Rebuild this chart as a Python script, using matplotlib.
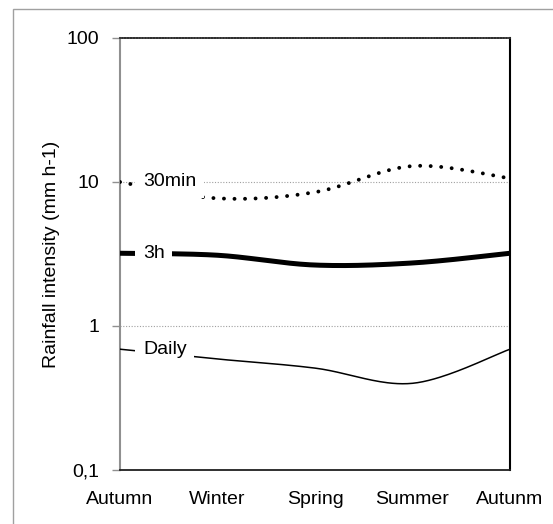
import numpy as np
import matplotlib
matplotlib.use('Agg')
import matplotlib.pyplot as plt
from matplotlib.patches import Rectangle

plt.rcParams['font.family'] = ['Liberation Sans', 'DejaVu Sans']

# seasons along the x axis
seasons = ['Autumn', 'Winter', 'Spring', 'Summer', 'Autunm']

# rainfall intensity (mm h-1) per season
min30 = [10.0, 7.7, 8.5, 12.9, 10.6]
h3 = [3.2, 3.1, 2.65, 2.74, 3.2]
daily = [0.69, 0.59, 0.51, 0.40, 0.69]

ytick_vals = [0.1, 1, 10, 100]
ytick_labels = ['0,1', '1', '10', '100']


def smooth(y, n=40):
    # Excel-style smoothed line (Catmull-Rom) drawn in log space
    ly = np.log10(y)
    x = np.arange(len(y), dtype=float)
    p = np.concatenate([[ly[0]], ly, [ly[-1]]])
    px = np.concatenate([[x[0]], x, [x[-1]]])
    xs, ys = [], []
    t = np.linspace(0, 1, n)
    for i in range(1, len(p) - 2):
        b0 = np.array([px[i], p[i]])
        b3 = np.array([px[i + 1], p[i + 1]])
        b1 = b0 + (np.array([px[i + 1], p[i + 1]]) - np.array([px[i - 1], p[i - 1]])) / 6
        b2 = b3 - (np.array([px[i + 2], p[i + 2]]) - np.array([px[i], p[i]])) / 6
        pts = ((1 - t) ** 3)[:, None] * b0 + (3 * (1 - t) ** 2 * t)[:, None] * b1 \
            + (3 * (1 - t) * t ** 2)[:, None] * b2 + (t ** 3)[:, None] * b3
        xs.extend(pts[:, 0])
        ys.extend(pts[:, 1])
    return np.array(xs), 10 ** np.array(ys)


fig = plt.figure(figsize=(5.53, 5.24), dpi=100)
ax = fig.add_axes([120 / 553, 54 / 524, 390 / 553, 432 / 524])

# outer chart frame
fig.add_artist(Rectangle((13 / 553, -0.5), 2, 1.5 - 9 / 524, transform=fig.transFigure,
                         fill=False, edgecolor='#a0a0a0', lw=1.0))

ax.set_yscale('log')
ax.set_ylim(0.1, 100)
ax.set_xlim(0, 4)

for v in [1, 10]:
    ax.axhline(v, color='#a0a0a0', lw=0.8, ls=(0, (1, 1.5)), zorder=1)

xs, ys = smooth(min30)
ax.plot(xs, ys, color='black', lw=2.8, ls=(0, (0.01, 2.7)), dash_capstyle='round', zorder=3)
xs, ys = smooth(h3)
ax.plot(xs, ys, color='black', lw=3.6, solid_capstyle='butt', zorder=3)
xs, ys = smooth(daily)
ax.plot(xs, ys, color='black', lw=1.1, zorder=3)

for name, series in [('30min', min30), ('3h', h3), ('Daily', daily)]:
    ax.text(0.235, series[0], name, ha='left', va='center', fontsize=14, zorder=4,
            bbox=dict(boxstyle='square,pad=0.4', fc='white', ec='none'))

ax.set_yticks(ytick_vals)
ax.set_yticklabels(ytick_labels, fontsize=14)
ax.yaxis.set_minor_locator(matplotlib.ticker.NullLocator())
ax.tick_params(axis='y', length=6, width=1, color='#909090', pad=9)
ax.set_xticks(range(len(seasons)))
ax.set_xticklabels(seasons, fontsize=14)
ax.tick_params(axis='x', length=0, pad=15)

ax.set_ylabel('Rainfall intensity (mm h-1)', fontsize=14, labelpad=5)

ax.spines['left'].set_color('#909090')
ax.spines['left'].set_linewidth(1.5)
ax.spines['right'].set_color('black')
ax.spines['right'].set_linewidth(1.5)
ax.spines['bottom'].set_color('#202020')
ax.spines['bottom'].set_linewidth(1.3)
ax.spines['top'].set_color('#303030')
ax.spines['top'].set_linewidth(1.3)
ax.spines['top'].set_linestyle((0, (1, 0.6)))

fig.savefig('out.png', dpi=100)
